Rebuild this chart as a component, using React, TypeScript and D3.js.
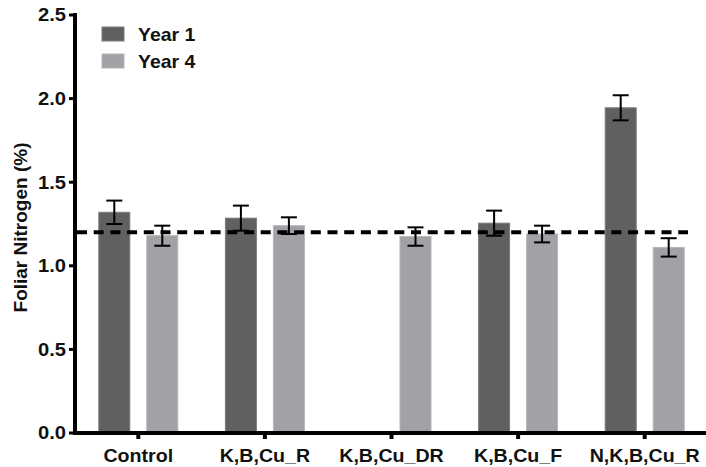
import React from "react";
import * as d3 from "d3";

const categories = ["Control", "K,B,Cu_R", "K,B,Cu_DR", "K,B,Cu_F", "N,K,B,Cu_R"];
const seriesNames = ["Year 1", "Year 4"];
const year1Values: (number | null)[] = [1.32, 1.285, null, 1.255, 1.945];
const year1Errors: (number | null)[] = [0.07, 0.075, null, 0.075, 0.075];
const year4Values: (number | null)[] = [1.18, 1.24, 1.175, 1.19, 1.11];
const year4Errors: (number | null)[] = [0.06, 0.05, 0.055, 0.05, 0.055];
const yTicks = [0, 0.5, 1.0, 1.5, 2.0, 2.5];
const referenceLine = 1.2;
const yTitle = "Foliar Nitrogen (%)";

const colors = ["#606060", "#a2a2a6"];
const strokeColors = ["#7a7a7a", "#b6b6ba"];
const FONT = "'Liberation Sans', Arial, Helvetica, sans-serif";

export default function App() {
  const W = 706, H = 467;
  const x = d3.scaleBand<string>().domain(categories).range([75, 708]).paddingInner(0).paddingOuter(0);
  const sub = d3.scaleBand<string>().domain(seriesNames).range([-48, 48]);
  const y = d3.scaleLinear().domain([0, 2.5]).range([433, 15]);
  const barW = 31;
  const allValues = [year1Values, year4Values];
  const allErrors = [year1Errors, year4Errors];

  return (
    <svg width={W} height={H} style={{ position: "absolute", left: 0, top: 0, background: "#fff" }} fontFamily={FONT}>
      {/* bars */}
      {seriesNames.map((s, si) =>
        categories.map((c, ci) => {
          const v = allValues[si][ci];
          if (v == null) return null;
          const cx = (x(c) as number) + x.bandwidth() / 2 + (sub(s) as number) + sub.bandwidth() / 2;
          return (
            <rect key={s + c} x={cx - barW / 2} y={y(v)} width={barW} height={y(0) - y(v)}
              fill={colors[si]} stroke={strokeColors[si]} strokeWidth={1} />
          );
        })
      )}
      {/* error bars */}
      {seriesNames.map((s, si) =>
        categories.map((c, ci) => {
          const v = allValues[si][ci];
          const e = allErrors[si][ci];
          if (v == null || e == null) return null;
          const cx = (x(c) as number) + x.bandwidth() / 2 + (sub(s) as number) + sub.bandwidth() / 2;
          return (
            <g key={"e" + s + c} stroke="#000" strokeWidth={2}>
              <line x1={cx} x2={cx} y1={y(v + e)} y2={y(v - e)} />
              <line x1={cx - 8} x2={cx + 8} y1={y(v + e)} y2={y(v + e)} />
              <line x1={cx - 8} x2={cx + 8} y1={y(v - e)} y2={y(v - e)} />
            </g>
          );
        })
      )}
      {/* reference line */}
      <line x1={77} x2={688} y1={y(referenceLine)} y2={y(referenceLine)} stroke="#000" strokeWidth={4}
        strokeDasharray="10,6.7" />
      {/* y axis */}
      <line x1={75} x2={75} y1={y(2.5) - 2} y2={y(0) + 2} stroke="#000" strokeWidth={4} />
      {yTicks.map((t) => (
        <g key={"yt" + t}>
          <line x1={69} x2={75} y1={y(t)} y2={y(t)} stroke="#000" strokeWidth={3} />
          <text x={66} y={y(t)} dy="0.36em" textAnchor="end" fontSize={18} fontWeight="bold" fill="#111"
            transform={`translate(66,0) scale(1.12,1) translate(-66,0)`}>
            {t.toFixed(1)}
          </text>
        </g>
      ))}
      {/* x axis */}
      <line x1={73} x2={706} y1={y(0)} y2={y(0)} stroke="#000" strokeWidth={4} />
      {categories.map((c) => {
        const cx = (x(c) as number) + x.bandwidth() / 2;
        return (
          <g key={"xt" + c}>
            <line x1={cx} x2={cx} y1={y(0)} y2={y(0) + 6} stroke="#000" strokeWidth={4} />
            <text x={cx} y={462} textAnchor="middle" fontSize={18.5} fontWeight="bold" fill="#111"
              transform={`translate(${cx},0) scale(1.06,1) translate(${-cx},0)`}>
              {c}
            </text>
          </g>
        );
      })}
      {/* y title */}
      <text transform={`translate(27,${(143 + 312) / 2}) rotate(-90)`} textAnchor="middle" fontSize={19}
        fontWeight="bold" fill="#111">
        {yTitle}
      </text>
      {/* legend */}
      {seriesNames.map((s, i) => (
        <g key={"lg" + s}>
          <rect x={102} y={27 + i * 27} width={22} height={14} fill={colors[i]} stroke={strokeColors[i]} strokeWidth={1} />
          <text x={138} y={41 + i * 27} fontSize={18} fontWeight="bold" fill="#111"
            transform={`translate(138,0) scale(1.08,1) translate(-138,0)`}>
            {s}
          </text>
        </g>
      ))}
    </svg>
  );
}
